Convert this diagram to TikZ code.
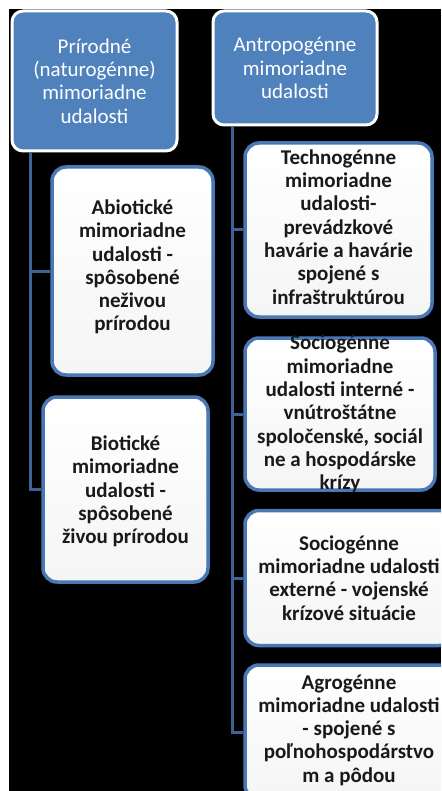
\documentclass[tikz,border=0pt]{standalone}
\usepackage{fontspec}
\setmainfont{Carlito}
\definecolor{hdrblue}{RGB}{79,129,189}
\definecolor{edgeblue}{RGB}{74,120,180}
\definecolor{linkblue}{RGB}{62,98,150}
\definecolor{txtdark}{RGB}{25,25,25}
\begin{document}
\begin{tikzpicture}[x=1pt,y=-1pt,
  hdrbox/.style={draw=white, line width=3pt, fill=hdrblue, rounded corners=11pt,
    text=white, align=center, inner sep=0pt, font=\fontsize{21}{23.3}\selectfont},
  childbox/.style={draw=edgeblue, line width=3.5pt, rounded corners=14pt,
    top color=white, bottom color=white!96!black, inner sep=0pt},
  childtext/.style={text=txtdark, align=center, inner sep=0pt,
    font=\fontsize{21}{23.3}\selectfont\bfseries},
  link/.style={draw=linkblue, line width=3pt}]
\useasboundingbox (0,0) rectangle (441,791);
\begin{scope}
\clip (0,0) rectangle (441,791);
\fill[white] (0,0) rectangle (441,791);
\fill[black] (9,9) rectangle (441,791);
% connectors
\coordinate (lx) at (30,0);
\coordinate (rx) at (232,0);
% headers
\node[hdrbox, minimum width=165pt, minimum height=140pt] (prir) at (94.5,81) {Prírodné\\(naturogénne)\\mimoriadne\\udalosti};
\node[hdrbox, minimum width=164pt, minimum height=114pt] (antr) at (295,68) {Antropogénne\\mimoriadne\\udalosti};
% left children
\node[childbox, minimum width=161pt, minimum height=208pt] (abio) at (132.5,271) {};
\node[childtext] (abiot) at ([yshift=4pt]abio.center) {Abiotické\\mimoriadne\\udalosti -\\spôsobené\\neživou\\prírodou};
\node[childbox, minimum width=165pt, minimum height=185pt] (bio) at (125.5,489.5) {};
\node[childtext] (biot) at ([yshift=-2pt]bio.center) {Biotické\\mimoriadne\\udalosti -\\spôsobené\\živou prírodou};
% right children
\node[childbox, minimum width=187pt, minimum height=174pt] (tech) at (338.5,230) {};
\node[childtext] (techt) at ([yshift=3pt]tech.center) {Technogénne\\mimoriadne\\udalosti-\\prevádzkové\\havárie a havárie\\spojené s\\infraštruktúrou};
\node[childbox, minimum width=190pt, minimum height=152pt] (soci) at (340,414) {};
\node[childtext] (socit) at (soci) {Sociogénne\\mimoriadne\\udalosti interné -\\vnútroštátne\\spoločenské, sociál\\ne a hospodárske\\krízy};
\node[childbox, minimum width=208pt, minimum height=135pt] (soce) at (349,578) {};
\node[childtext] (socet) at (soce) {Sociogénne\\mimoriadne udalosti\\externé - vojenské\\krízové situácie};
\node[childbox, minimum width=208pt, minimum height=134pt] (agro) at (349,732) {};
\node[childtext] (agrot) at ([yshift=2pt]agro.center) {Agrogénne\\mimoriadne udalosti\\- spojené s\\poľnohospodárstvo\\m a pôdou};
% links
\draw[link] (prir.south -| lx) |- (abio.west);
\draw[link] (prir.south -| lx) |- (bio.west);
\draw[link] (antr.south -| rx) |- (tech.west);
\draw[link] (antr.south -| rx) |- (soci.west);
\draw[link] (antr.south -| rx) |- (soce.west);
\draw[link] (antr.south -| rx) |- (agro.west);
\end{scope}
\end{tikzpicture}
\end{document}
